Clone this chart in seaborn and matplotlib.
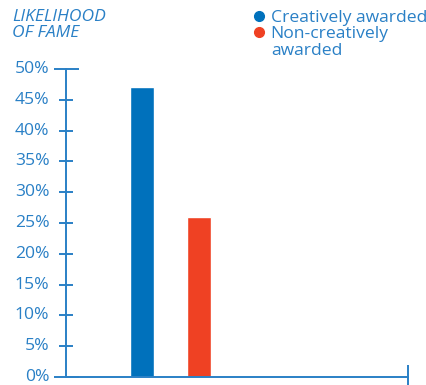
import matplotlib
matplotlib.use("Agg")
import matplotlib.pyplot as plt
from matplotlib.lines import Line2D
from matplotlib.transforms import ScaledTranslation
import seaborn as sns
import pandas as pd

# Share of award winners who became famous
groups = ["Creatively awarded", "Non-creatively awarded"]
legend_lines = ["Creatively awarded", "Non-creatively", "awarded"]
likelihood = [47.1, 26.0]
y_ticks = [0, 5, 10, 15, 20, 25, 30, 35, 40, 45, 50]
y_tick_labels = [f"{v}%" for v in y_ticks]

bar_colors = ["#0071bc", "#ef4123"]
ink = "#2a80c6"
fsize = 12.6

sns.set_theme(style="white")
plt.rcParams["font.family"] = ["Open Sans", "DejaVu Sans"]
plt.rcParams["font.weight"] = 500

df = pd.DataFrame({"group": groups, "likelihood": likelihood})

fig = plt.figure(figsize=(4.27, 3.85), dpi=100)
ax = fig.add_axes([66 / 427, 1 - 377 / 385, (408 - 66) / 427, (377 - 69) / 385])

sns.barplot(data=df, x="group", y="likelihood", hue="group",
            palette=bar_colors, width=0.42, legend=False, ax=ax,
            saturation=1)

ax.set_ylim(0, 50)
x_left, x_right = -1.333, 4.667
ax.set_xlim(x_left, x_right)
ax.set_xlabel("")
ax.set_ylabel("")

# axis styling
for side in ["top", "right"]:
    ax.spines[side].set_visible(False)
for side in ["left", "bottom"]:
    ax.spines[side].set_color(ink)
    ax.spines[side].set_linewidth(1.4)

ax.set_yticks(y_ticks)
ax.set_yticklabels(y_tick_labels, fontsize=fsize, color=ink)
ax.tick_params(axis="y", direction="inout", length=10, width=1.4,
               color=ink, pad=7, left=True)
shift_up = ScaledTranslation(0, 2 / 100, fig.dpi_scale_trans)
for lab in ax.get_yticklabels():
    lab.set_transform(lab.get_transform() + shift_up)
yt = ax.yaxis.get_major_ticks()
for idx in (0, -1):
    yt[idx].tick1line.set_markersize(18)

ax.set_xticks([x_right])
ax.set_xticklabels([""])
ax.tick_params(axis="x", direction="inout", length=18, width=1.4,
               color=ink, bottom=True)
for t in ax.xaxis.get_major_ticks():
    t.tick1line.set_clip_on(False)
for t in yt:
    t.tick1line.set_clip_on(False)

fig.text(12 / 427, 1 - 9 / 385, "LIKELIHOOD\nOF FAME", ha="left", va="top",
         fontsize=fsize, style="italic", color=ink, linespacing=0.98)

# legend: the second label wraps onto a third row without a marker
handles = [Line2D([0], [0], marker="o", linestyle="", markersize=7,
                  markerfacecolor=c, markeredgecolor=c) for c in bar_colors]
handles.append(Line2D([0], [0], linestyle="", marker=""))
fig.legend(handles, legend_lines, loc="upper left",
           bbox_to_anchor=(248 / 427, 1 - 6 / 385), frameon=False,
           fontsize=fsize, labelcolor=ink, handletextpad=0.3,
           handlelength=0.8, labelspacing=0.02, borderaxespad=0.0,
           borderpad=0.2)

fig.savefig("out.png", dpi=100)
